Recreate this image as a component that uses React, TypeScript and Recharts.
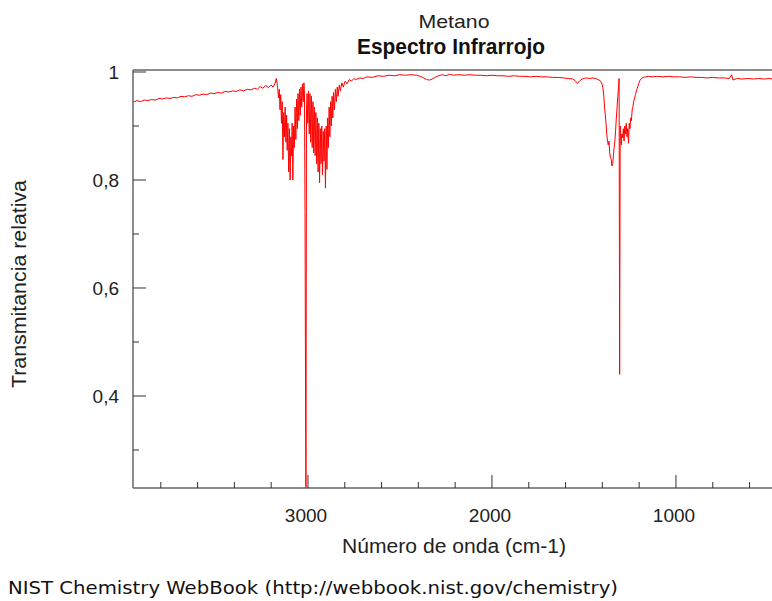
import { LineChart, Line, XAxis, YAxis, ReferenceLine } from 'recharts';

const baselineHigh: [number, number][] = [
  [3950, 0.944], [3930, 0.947], [3910, 0.945], [3890, 0.948], [3870, 0.947], [3850, 0.949],
  [3830, 0.948], [3810, 0.951], [3790, 0.95], [3770, 0.952], [3750, 0.951], [3730, 0.953],
  [3710, 0.952], [3690, 0.955], [3670, 0.954], [3650, 0.956], [3630, 0.955], [3610, 0.958],
  [3590, 0.957], [3570, 0.959], [3550, 0.958], [3530, 0.961], [3510, 0.96], [3490, 0.962],
  [3470, 0.961], [3450, 0.964], [3430, 0.963], [3410, 0.965], [3390, 0.964], [3370, 0.967],
  [3350, 0.965], [3330, 0.968], [3310, 0.967], [3290, 0.97], [3275, 0.968], [3260, 0.973],
  [3245, 0.97], [3230, 0.975], [3215, 0.971], [3200, 0.976], [3190, 0.972], [3180, 0.978],
  [3172, 0.988],
];

const bandStretch: [number, number][] = [
  [3166, 0.975], [3160, 0.952], [3156, 0.968], [3152, 0.93], [3148, 0.958], [3144, 0.905],
  [3140, 0.945], [3136, 0.838], [3132, 0.925], [3128, 0.88], [3124, 0.935], [3120, 0.87],
  [3116, 0.92], [3113, 0.855], [3109, 0.905], [3105, 0.815], [3101, 0.895], [3097, 0.8],
  [3093, 0.88], [3089, 0.845], [3086, 0.905], [3082, 0.8], [3078, 0.9], [3074, 0.86],
  [3070, 0.935], [3066, 0.875], [3062, 0.95], [3058, 0.895], [3054, 0.96], [3050, 0.91],
  [3046, 0.968], [3042, 0.92], [3038, 0.972], [3034, 0.935], [3030, 0.978], [3026, 0.945],
  [3022, 0.98], [3019, 0.96], [3016, 0.74], [3014, 0.5], [3011, 0.2], [3008, 0.93],
  [3005, 0.96], [3001, 0.905], [2997, 0.965], [2993, 0.885], [2989, 0.96], [2985, 0.87],
  [2981, 0.955], [2977, 0.86], [2973, 0.945], [2969, 0.85], [2965, 0.935], [2961, 0.845],
  [2957, 0.925], [2953, 0.83], [2949, 0.915], [2945, 0.815], [2941, 0.905], [2937, 0.795],
  [2933, 0.895], [2929, 0.83], [2925, 0.9], [2921, 0.81], [2917, 0.89], [2913, 0.835],
  [2909, 0.895], [2905, 0.785], [2901, 0.9], [2897, 0.82], [2893, 0.915], [2889, 0.86],
  [2885, 0.935], [2881, 0.88], [2877, 0.945], [2873, 0.9], [2869, 0.955], [2865, 0.915],
  [2861, 0.962], [2856, 0.93], [2851, 0.968], [2846, 0.945], [2841, 0.972], [2836, 0.955],
  [2830, 0.976], [2824, 0.965], [2816, 0.98], [2808, 0.972], [2798, 0.983], [2788, 0.978],
  [2776, 0.986], [2764, 0.983], [2750, 0.988],
];

const baselineMid: [number, number][] = [
  [2740, 0.986], [2720, 0.989], [2700, 0.988], [2680, 0.991], [2650, 0.99], [2620, 0.993],
  [2590, 0.992], [2560, 0.994], [2530, 0.993], [2500, 0.995], [2470, 0.994], [2440, 0.995],
  [2410, 0.994], [2390, 0.992], [2370, 0.989], [2355, 0.986], [2340, 0.985], [2325, 0.987],
  [2310, 0.99], [2290, 0.993], [2270, 0.995], [2250, 0.993], [2230, 0.996], [2210, 0.994],
  [2180, 0.995], [2150, 0.994], [2120, 0.995], [2090, 0.994], [2060, 0.994], [2030, 0.993],
  [2000, 0.994], [1970, 0.993], [1940, 0.993], [1910, 0.992], [1880, 0.993], [1850, 0.992],
  [1820, 0.992], [1790, 0.991], [1760, 0.992], [1730, 0.991], [1700, 0.991], [1670, 0.99],
  [1640, 0.99], [1610, 0.989], [1585, 0.988], [1560, 0.987], [1545, 0.983], [1535, 0.979],
  [1525, 0.983], [1510, 0.987], [1490, 0.989], [1470, 0.988], [1450, 0.989], [1430, 0.987],
  [1418, 0.985],
];

const bandBend: [number, number][] = [
  [1412, 0.984], [1405, 0.98], [1400, 0.976], [1396, 0.968], [1392, 0.955], [1388, 0.935],
  [1384, 0.92], [1380, 0.905], [1376, 0.885], [1372, 0.872], [1368, 0.865], [1364, 0.872],
  [1360, 0.85], [1356, 0.842], [1352, 0.838], [1348, 0.826], [1344, 0.83], [1340, 0.845],
  [1336, 0.86], [1332, 0.872], [1328, 0.892], [1324, 0.915], [1320, 0.935], [1316, 0.955],
  [1312, 0.972], [1309, 0.988], [1306, 0.44], [1303, 0.9], [1300, 0.88], [1297, 0.865],
  [1294, 0.885], [1290, 0.878], [1286, 0.895], [1282, 0.872], [1278, 0.9], [1274, 0.885],
  [1270, 0.905], [1266, 0.88], [1262, 0.895], [1258, 0.868], [1254, 0.905], [1250, 0.895],
  [1246, 0.915], [1242, 0.91], [1238, 0.93], [1234, 0.935], [1230, 0.945], [1225, 0.952],
  [1220, 0.958], [1215, 0.965], [1210, 0.97], [1205, 0.976], [1200, 0.981], [1195, 0.985],
  [1188, 0.988], [1178, 0.99], [1165, 0.991], [1150, 0.992],
];

const baselineLow: [number, number][] = [
  [1130, 0.991], [1100, 0.992], [1070, 0.991], [1040, 0.992], [1010, 0.991], [980, 0.991],
  [950, 0.99], [920, 0.991], [890, 0.99], [860, 0.99], [830, 0.989], [800, 0.99],
  [770, 0.989], [740, 0.989], [710, 0.988], [697, 0.995], [690, 0.985], [670, 0.988],
  [640, 0.987], [610, 0.988], [580, 0.987], [550, 0.988], [520, 0.987], [490, 0.988],
  [475, 0.987],
];

const xTicks = [3800, 3600, 3400, 3200, 3000, 2800, 2600, 2400, 2200, 2000, 1800, 1600, 1400, 1200, 1000, 800, 600];
const xMajor = [3000, 2000, 1000];
const yTicks = [0.3, 0.4, 0.5, 0.6, 0.7, 0.8, 0.9, 1];
const yMajor = [0.4, 0.6, 0.8, 1];

const X_DOMAIN: [number, number] = [478, 3951];
const Y_DOMAIN: [number, number] = [0.2296, 1.0037];

const spectrum = [...baselineHigh, ...bandStretch, ...baselineMid, ...bandBend, ...baselineLow].map(
  ([wn, t]) => ({ wn, t })
);

const AXIS = '#666';
const FONT = '"Liberation Sans", Arial, sans-serif';

const yLabel = (v: number) => (v === 1 ? '1' : v.toFixed(1).replace('.', ','));

function XTick(props: any) {
  const { x, y, payload } = props;
  const major = xMajor.includes(payload.value);
  return (
    <g>
      <line x1={x} x2={x} y1={y} y2={y - (major ? 13 : 6)} stroke="#333" strokeWidth={1} />
      {major && (
        <text x={x - 2} y={y + 34} textAnchor="middle" fontFamily={FONT} fontSize={19} fill="#222">
          {payload.value}
        </text>
      )}
    </g>
  );
}

function YTick(props: any) {
  const { x, y, payload } = props;
  const major = yMajor.some((m) => Math.abs(m - payload.value) < 1e-6);
  return (
    <g>
      <line x1={x} x2={x + (major ? 13 : 6)} y1={y} y2={y} stroke="#333" strokeWidth={1} />
      {major && (
        <text x={x - 14} y={y + 7} textAnchor="end" fontFamily={FONT} fontSize={19} fill="#222">
          {yLabel(payload.value)}
        </text>
      )}
    </g>
  );
}

export default function App() {
  return (
    <div style={{ position: 'absolute', left: 0, top: 0, width: 772, height: 601, background: '#fff' }}>
      <LineChart width={772} height={601} data={spectrum} margin={{ top: 70, right: 0, bottom: 112, left: 132 }}>
        <XAxis
          dataKey="wn"
          type="number"
          domain={X_DOMAIN}
          reversed
          allowDataOverflow
          ticks={xTicks}
          interval={0}
          height={1}
          tickSize={0}
          tickMargin={0}
          tickLine={false}
          tick={XTick}
          axisLine={{ stroke: AXIS, strokeWidth: 1.5 }}
        />
        <YAxis
          type="number"
          domain={Y_DOMAIN}
          allowDataOverflow
          ticks={yTicks}
          interval={0}
          width={1}
          tickSize={0}
          tickMargin={0}
          tickLine={false}
          tick={YTick}
          axisLine={{ stroke: AXIS, strokeWidth: 1.5 }}
        />
        <ReferenceLine y={Y_DOMAIN[1]} stroke={AXIS} strokeWidth={1.5} />
        <Line
          type="linear"
          dataKey="t"
          stroke="#ff0000"
          strokeWidth={1}
          dot={false}
          isAnimationActive={false}
        />
      </LineChart>
      <svg width={772} height={601} style={{ position: 'absolute', left: 0, top: 0, pointerEvents: 'none' }}>
        <text x={454} y={28} textAnchor="middle" fontFamily={FONT} fontSize={19} fill="#222"
          textLength={71} lengthAdjust="spacingAndGlyphs">
          Metano
        </text>
        <text x={451} y={54} textAnchor="middle" fontFamily={FONT} fontWeight="bold" fontSize={22} fill="#111"
          textLength={188} lengthAdjust="spacingAndGlyphs">
          Espectro Infrarrojo
        </text>
        <text x={454} y={553} textAnchor="middle" fontFamily={FONT} fontSize={20} fill="#222"
          textLength={224} lengthAdjust="spacingAndGlyphs">
          Número de onda (cm-1)
        </text>
        <text x={0} y={0} transform="translate(26,284) rotate(-90)" textAnchor="middle" fontFamily={FONT}
          fontSize={20} fill="#222" textLength={208} lengthAdjust="spacingAndGlyphs">
          Transmitancia relativa
        </text>
        <text x={8} y={594} fontFamily='"DejaVu Sans", Verdana, sans-serif' fontSize={17} fill="#111"
          textLength={610} lengthAdjust="spacingAndGlyphs">
          NIST Chemistry WebBook (http://webbook.nist.gov/chemistry)
        </text>
      </svg>
    </div>
  );
}
